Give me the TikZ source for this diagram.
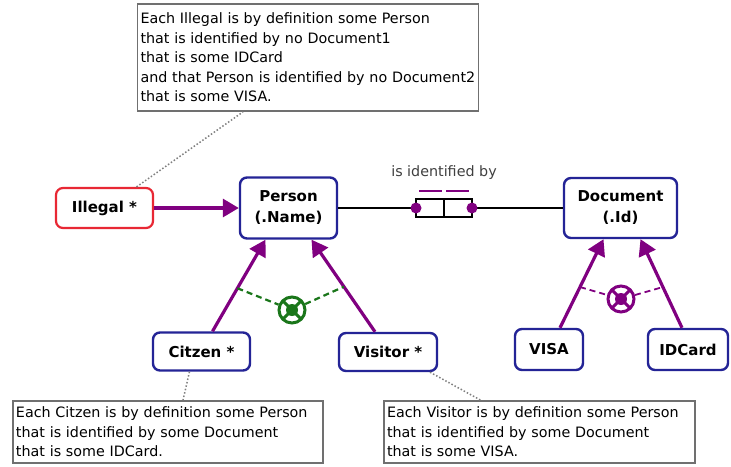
\documentclass[tikz,border=0pt]{standalone}
\usepackage{fontspec}
\setmainfont{DejaVu Sans}
\usetikzlibrary{arrows.meta, positioning}
\definecolor{ormblue}{RGB}{36,36,150}
\definecolor{ormred}{RGB}{232,40,52}
\definecolor{ormpurple}{RGB}{128,0,128}
\definecolor{ormgreen}{RGB}{26,118,26}
\definecolor{notegray}{RGB}{112,112,112}
\tikzstyle{entity} = [rectangle, rounded corners=7pt, draw=ormblue, line width=2.4pt, fill=white, align=center, font=\fontsize{15}{21}\selectfont\bfseries, inner sep=0pt]
\tikzstyle{derived} = [entity, draw=ormred, line width=2.2pt]
\tikzstyle{role} = [rectangle, draw=black, line width=1.6pt, minimum width=28pt, minimum height=18pt, outer sep=0pt, inner sep=0pt]
\tikzstyle{note} = [rectangle, draw=notegray, line width=1.8pt, fill=white, align=left, font=\fontsize{14.3}{19.5}\selectfont, inner sep=3pt]
\tikzstyle{subtype} = [line width=3.2pt, draw=ormpurple, -{Triangle[length=16pt, width=18pt]}]
\tikzstyle{conn} = [line width=1.8pt, draw=black]
\tikzstyle{noteline} = [line width=1.5pt, draw=gray, dotted]
\tikzstyle{exline} = [line width=2.2pt, dash pattern=on 6pt off 4pt]
\tikzset{exclusion/.style={circle, draw=#1, line width=3pt, fill=white, minimum size=26pt, inner sep=0pt,
  path picture={
    \draw[#1, line width=3pt] (path picture bounding box.north west) -- (path picture bounding box.south east)
      (path picture bounding box.north east) -- (path picture bounding box.south west);
    \fill[#1] (path picture bounding box.center) circle (6pt);}}}

\begin{document}
\begin{tikzpicture}[x=1pt, y=-1pt]
\path[use as bounding box, fill=white] (0,0) rectangle (731,466);

% Nodes
\node (illegal) [derived, minimum width=97pt, minimum height=40pt] at (104.5,208) {Illegal *};
\node (person) [entity, minimum width=97pt, minimum height=61pt] at (288.5,208) {Person\\(.Name)};
\node (role1) [role] at (430,208) {};
\node (role2) [role, right=0pt of role1] {};
\node (rolelabel) [font=\fontsize{14.3}{17}\selectfont, text=black!75] at (444,173) {is identified by};
\node (document) [entity, minimum width=113pt, minimum height=60pt] at (620.5,208) {Document\\(.Id)};
\node (citizen) [entity, minimum width=97pt, minimum height=38pt] at (201.5,351.5) {Citzen *};
\node (visitor) [entity, minimum width=98pt, minimum height=38pt] at (388,352) {Visitor *};
\node (visa) [entity, minimum width=68pt, minimum height=41pt] at (549,349.5) {VISA};
\node (idcard) [entity, minimum width=80pt, minimum height=41pt] at (688,349.5) {IDCard};

% Notes
\node (illnote) [note, minimum width=341pt, minimum height=107pt, text width=335pt] at (308,57.5) {Each Illegal is by definition some Person\\that is identified by no Document1\\that is some IDCard\\and that Person is identified by no Document2\\that is some VISA.};
\node (citnote) [note, minimum width=310pt, minimum height=62pt, text width=304pt] at (168,432) {Each Citzen is by definition some Person\\that is identified by some Document\\that is some IDCard.};
\node (visnote) [note, minimum width=311pt, minimum height=62pt, text width=305pt] at (539.5,432) {Each Visitor is by definition some Person\\that is identified by some Document\\that is some VISA.};

% Exclusion constraints
\node (xorperson) [exclusion=ormgreen] at (292,310) {};
\node (xordoc) [exclusion=ormpurple] at (621,299) {};

% Arrows
\draw [subtype] (illegal) -- (person);
\draw [subtype] ([xshift=11pt]citizen.north) -- coordinate[pos=0.47] (citleg) ([xshift=-23pt]person.south);
\draw [subtype] ([xshift=-13pt]visitor.north) -- coordinate[pos=0.49] (visleg) ([xshift=23pt]person.south);
\draw [subtype] ([xshift=11pt]visa.north) -- coordinate[pos=0.46] (visaleg) ([xshift=-17pt]document.south);
\draw [subtype] ([xshift=-6pt]idcard.north) -- coordinate[pos=0.46] (idleg) ([xshift=20pt]document.south);
\draw [exline, ormgreen] (citleg) -- (xorperson) -- (visleg);
\draw [exline, ormpurple, line width=1.8pt] (visaleg) -- (xordoc) -- (idleg);

% Fact type
\draw [conn] (person) -- (role1);
\draw [conn] (role2) -- (document);
\fill [ormpurple] (role1.west) circle (5.5pt);
\fill [ormpurple] (role2.east) circle (5.5pt);
\draw [ormpurple, line width=2.5pt] ([xshift=3pt,yshift=8pt]role1.north west) -- ([xshift=-2pt,yshift=8pt]role1.north east);
\draw [ormpurple, line width=2.5pt] ([xshift=2pt,yshift=8pt]role2.north west) -- ([xshift=-3pt,yshift=8pt]role2.north east);

% Note links
\draw [noteline] ([xshift=32pt]illegal.north) -- ([xshift=-65pt]illnote.south);
\draw [noteline] ([xshift=-12pt]citizen.south) -- ([xshift=15pt]citnote.north);
\draw [noteline] ([xshift=42pt]visitor.south) -- ([xshift=-59pt]visnote.north);

\end{tikzpicture}
\end{document}
